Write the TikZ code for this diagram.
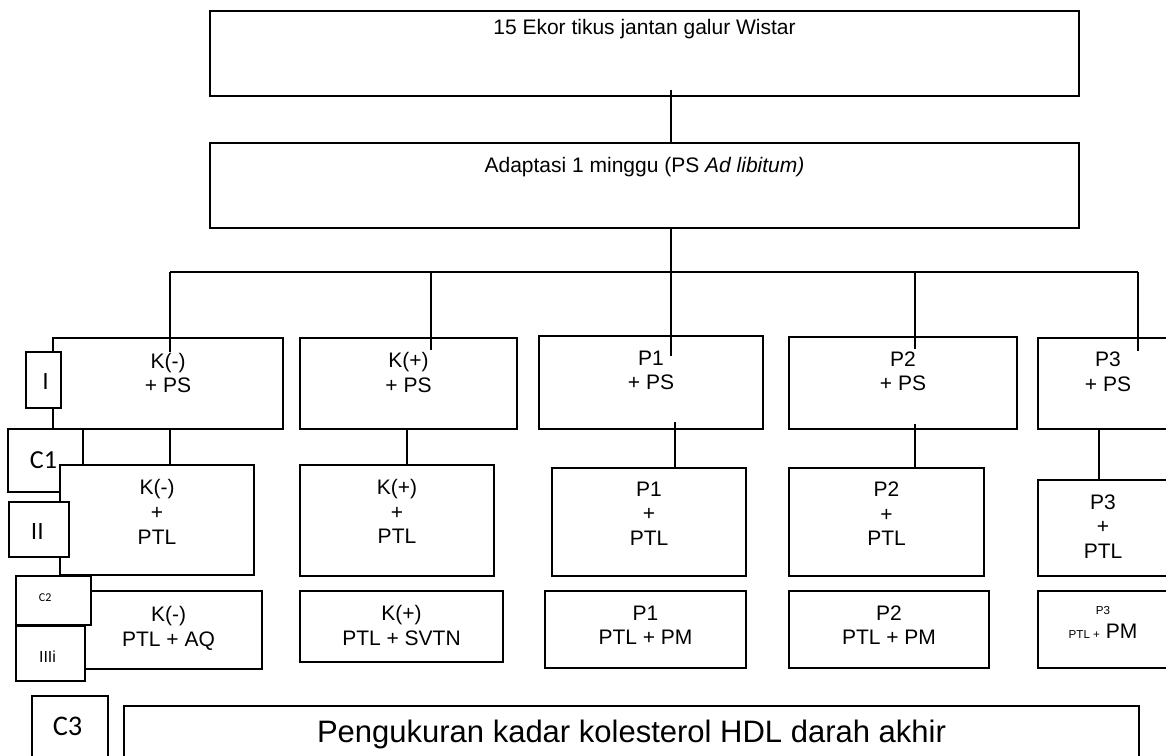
\documentclass[tikz,border=0pt]{standalone}
\usepackage{fontspec}
\setmainfont{Liberation Sans}
\newfontfamily\calfont{Carlito}
\usetikzlibrary{positioning,fit}
\tikzset{
  box/.style={rectangle,draw,line width=0.9pt,fill=white,inner sep=0pt},
  tag/.style={inner sep=0pt,font=\fontsize{11.6}{13}\selectfont},
  txt/.style={align=center,inner sep=0pt,anchor=north,
    font=\fontsize{10.5}{12.3}\selectfont},
  ln/.style={draw,line width=0.8pt},
}
\newcommand{\smalltxt}{\fontsize{5.8}{7}\selectfont}
\begin{document}
\begin{tikzpicture}[x=0.5pt,y=-0.5pt]
  \useasboundingbox (0,0) rectangle (1166,755);
  \clip (0,0) rectangle (1166,755);
  % top of the scheme
  \node[box,fit={(210,11) (1079,96)},
    label={[txt,yshift=-4.2pt]north:15 Ekor tikus jantan galur Wistar}] (rats) {};
  \node[box,fit={(210,143) (1079,228)},
    label={[txt,yshift=-7.6pt]north:Adaptasi 1 minggu (PS \textit{Ad libitum)}}] (adapt) {};
  % row 1
  \node[box,fit={(53,338) (283,429)},label={[txt,yshift=-7.8pt]north:{K(-)\\+ PS}}] (kneg1) {};
  \node[box,fit={(300,338) (517,429)},label={[txt,yshift=-7.6pt]north:{K(+)\\+ PS}}] (kpos1) {};
  \node[box,fit={(539,336) (763,429)},label={[txt,yshift=-7.6pt]north:{P1\\+ PS}}] (pa1) {};
  \node[box,fit={(789,337) (1017,429)},label={[txt,yshift=-7.6pt]north:{P2\\+ PS}}] (pb1) {};
  \node[box,fit={(1038,338) (1178,429)},label={[txt,yshift=-7.4pt]north:{P3\\+ PS}}] (pc1) {};
  \node[box,fit={(26,352) (61,408)},label={[tag,xshift=1pt,yshift=-1pt]center:I}] (lI) {};
  \node[box,fit={(8,429) (83,492)},
    label={[tag,xshift=-1pt,font=\calfont\fontsize{13}{15}\selectfont]center:C1}] (lC1) {};
  % row 2
  \node[box,fit={(60,465) (254,575)},label={[txt,yshift=-7.6pt]north:{K(-)\\+\\PTL}}] (kneg2) {};
  \node[box,fit={(300,465) (494,576)},label={[txt,yshift=-7.4pt]north:{K(+)\\+\\PTL}}] (kpos2) {};
  \node[box,fit={(552,468) (746,576)},label={[txt,yshift=-7.2pt]north:{P1\\+\\PTL}}] (pa2) {};
  \node[box,fit={(789,468) (984,576)},label={[txt,yshift=-7.2pt]north:{P2\\+\\PTL}}] (pb2) {};
  \node[box,fit={(1038,480) (1168,576)},label={[txt,yshift=-7.6pt]north:{P3\\+\\PTL}}] (pc2) {};
  \node[box,fit={(9,502) (69,557)},label={[tag,xshift=-0.8pt,yshift=-0.8pt]center:II}] (lII) {};
  % row 3
  \node[box,fit={(75,591) (262,669)},label={[txt,yshift=-8pt]north:{K(-)\\PTL + AQ}}] (kneg3) {};
  \node[box,fit={(300,591) (503,662)},label={[txt,yshift=-7.6pt]north:{K(+)\\PTL + SVTN}}] (kpos3) {};
  \node[box,fit={(545,591) (746,668)},label={[txt,yshift=-7.6pt]north:{P1\\PTL + PM}}] (pa3) {};
  \node[box,fit={(789,591) (989,668)},label={[txt,yshift=-7.6pt]north:{P2\\PTL + PM}}] (pb3) {};
  \node[box,fit={(1038,591) (1168,668)},
    label={[txt,yshift=-7.8pt]north:{{\smalltxt P3}\\{\smalltxt PTL +} PM}}] (pc3) {};
  \node[box,fit={(16,576) (91,625)},
    label={[tag,xshift=-4.2pt,yshift=1.5pt,font=\calfont\fontsize{6}{7}\selectfont]center:C2}] (lC2) {};
  \node[box,fit={(16,626) (85,681)},
    label={[tag,xshift=-1.5pt,yshift=-1.5pt,font=\fontsize{8}{9}\selectfont]center:IIIi}] (lIII) {};
  % final step
  \node[box,fit={(32,696) (108,775)},
    label={[tag,xshift=-1.2pt,yshift=4.7pt,font=\calfont\fontsize{14.2}{16}\selectfont]center:C3}] (lC3) {};
  \node[box,fit={(124,706) (1139,775)},
    label={[txt,yshift=-7.2pt,font=\fontsize{15.5}{18}\selectfont]north:Pengukuran kadar kolesterol HDL darah akhir}] (hdl) {};
  % connectors
  \coordinate (t0) at (671,90);
  \coordinate (fork) at (671,272);
  \coordinate (d1) at (170,352);
  \coordinate (d2) at (431,350);
  \coordinate (d3) at (671,356);
  \coordinate (d4) at (915,349);
  \coordinate (d5) at (1138,351);
  \coordinate (c1) at (170,429);
  \coordinate (c2) at (407,429);
  \coordinate (c3) at (675,422);
  \coordinate (c4) at (915,424);
  \coordinate (c5) at (1099,429);
  \draw[ln] (t0) -- (t0 |- adapt.north);
  \draw[ln] (adapt.south -| d3) -- (d3);
  \draw[ln] (d1 |- fork) -- (d5 |- fork);
  \foreach \d in {d1,d2,d4,d5}
    \draw[ln] (\d |- fork) -- (\d);
  \foreach \c/\n in {c1/kneg2,c2/kpos2,c3/pa2,c4/pb2,c5/pc2}
    \draw[ln] (\c) -- (\c |- \n.north);
\end{tikzpicture}
\end{document}
